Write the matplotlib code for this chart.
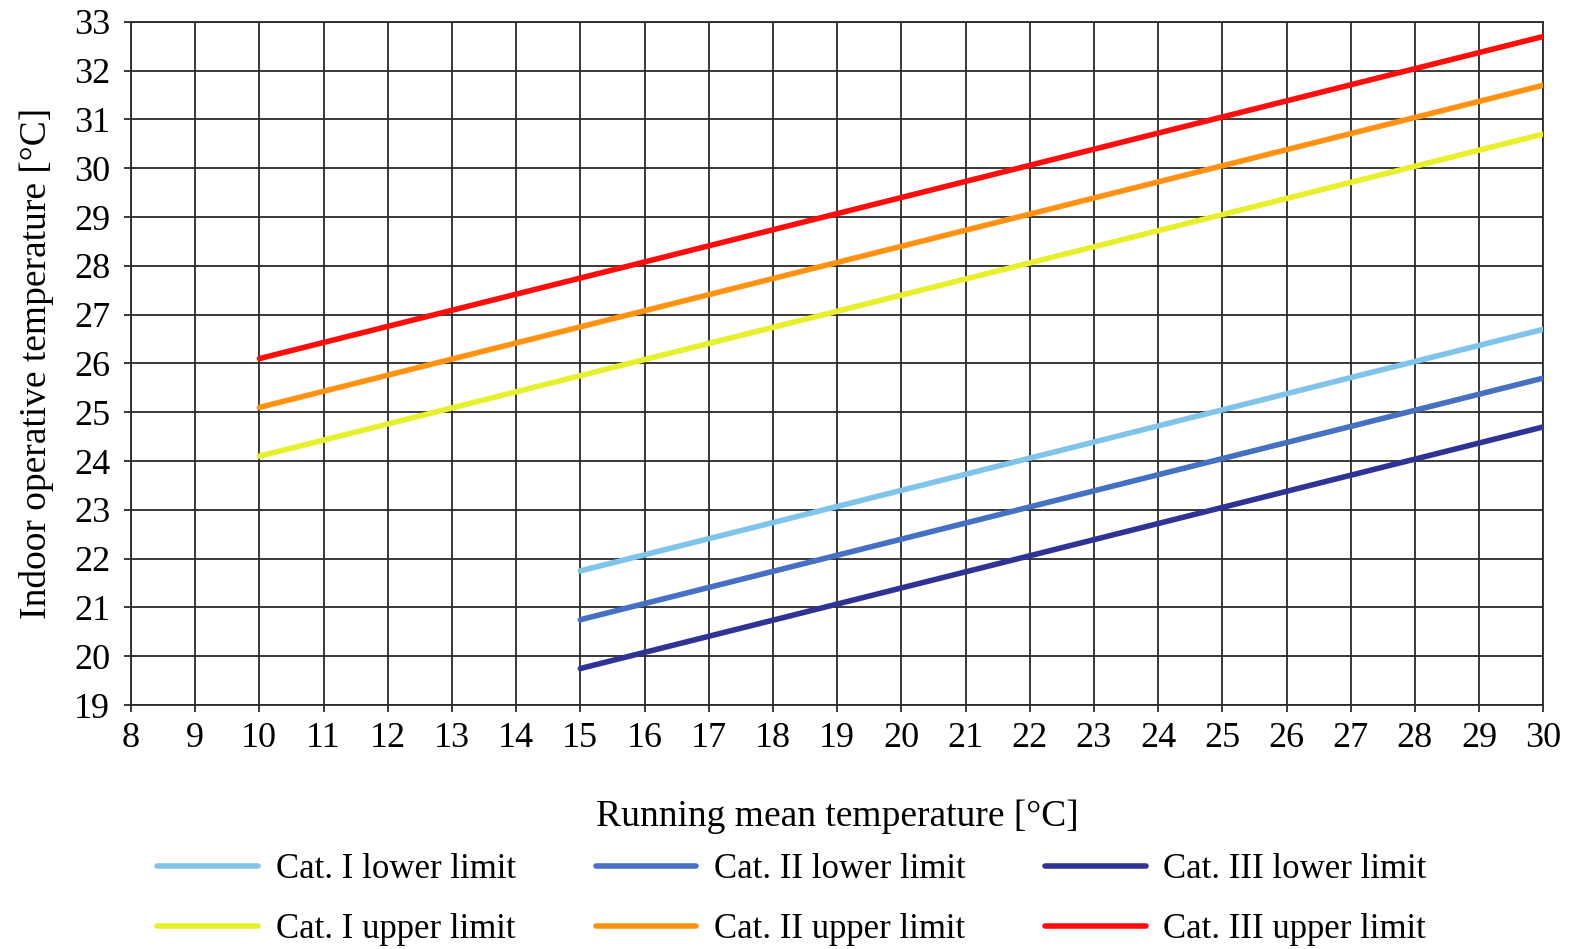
import numpy as np
import matplotlib
matplotlib.use("Agg")
import matplotlib.pyplot as plt

plt.rcParams['font.family'] = ['Liberation Serif', 'DejaVu Serif']

# running mean temperature end points and indoor operative temperature limits
x_upper = [10, 30]
x_lower = [15, 30]
cat1_upper = [24.1, 30.7]
cat2_upper = [25.1, 31.7]
cat3_upper = [26.1, 32.7]
cat1_lower = [21.75, 26.7]
cat2_lower = [20.75, 25.7]
cat3_lower = [19.75, 24.7]

labels = ["Cat. I lower limit", "Cat. I upper limit",
          "Cat. II lower limit", "Cat. II upper limit",
          "Cat. III lower limit", "Cat. III upper limit"]
colors = ["#80C4EA", "#E6F02C", "#4670C2", "#FF9212", "#2E3394", "#FF0D0D"]

fig = plt.figure(figsize=(15.78, 9.49), dpi=100)
ax = fig.add_axes([0.083, 0.257, 0.895, 0.72])

series = [(x_lower, cat1_lower), (x_upper, cat1_upper),
          (x_lower, cat2_lower), (x_upper, cat2_upper),
          (x_lower, cat3_lower), (x_upper, cat3_upper)]
handles = []
for (xs, ys), lab, col in zip(series, labels, colors):
    h, = ax.plot(xs, ys, color=col, lw=4.0, solid_capstyle='round', label=lab, zorder=3)
    handles.append(h)

ax.set_xlim(8, 30)
ax.set_ylim(19, 33)
ax.set_xticks(np.arange(8, 31, 1))
ax.set_yticks(np.arange(19, 34, 1))
ax.grid(True, color='#2a2a2a', lw=1.3)
for s in ax.spines.values():
    s.set_color('#2a2a2a')
    s.set_linewidth(1.3)
ax.tick_params(axis='both', labelsize=26, length=5, width=1.3, color='#2a2a2a')
ax.tick_params(axis='y', pad=10)
ax.tick_params(axis='x', pad=7)

ax.set_xlabel("Running mean temperature [°C]", fontsize=27, labelpad=32)
ax.set_ylabel("Indoor operative temperature [°C]", fontsize=27, labelpad=14)

fig.legend(handles=handles, labels=labels, ncol=3, loc='lower left',
           bbox_to_anchor=(0.08, -0.03), frameon=False, fontsize=25,
           handlelength=2.9, handletextpad=0.5, columnspacing=2.3,
           labelspacing=0.78)

fig.savefig("out.png", dpi=100)
